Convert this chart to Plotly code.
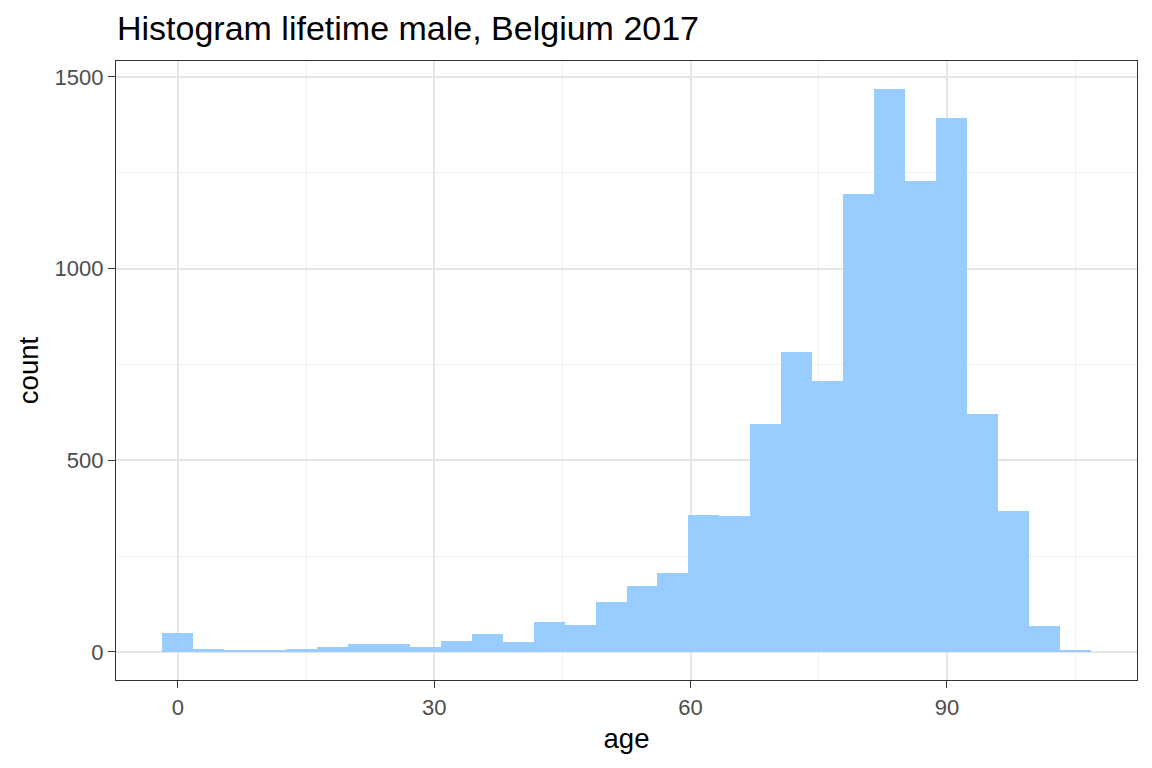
import plotly.graph_objects as go

# Histogram bins (bin centres, years) and counts
ages = [0, 3.62, 7.24, 10.86, 14.48, 18.10, 21.72, 25.34, 28.97, 32.59,
        36.21, 39.83, 43.45, 47.07, 50.69, 54.31, 57.93, 61.55, 65.17, 68.79,
        72.41, 76.03, 79.66, 83.28, 86.90, 90.52, 94.14, 97.76, 101.38, 105.00]
counts = [48, 7, 4, 4, 7, 12, 20, 20, 12, 28,
          46, 25, 77, 69, 129, 171, 205, 358, 354, 595,
          783, 706, 1194, 1468, 1229, 1392, 621, 368, 68, 5]
bin_width = 3.6207

x_ticks = [0, 30, 60, 90]
y_ticks = [0, 500, 1000, 1500]

font_family = "Liberation Sans, Arial, sans-serif"

# page body has an 8px margin, so the figure is a bit smaller than the window
W, H = 1144, 760

fig = go.Figure()
fig.add_trace(go.Bar(
    x=ages,
    y=counts,
    width=bin_width,
    marker=dict(color="#99CCFF", line=dict(width=0)),
    hoverinfo="x+y",
))

axis_style = dict(
    showline=True,
    mirror=True,
    linecolor="#333333",
    linewidth=1.3,
    showgrid=True,
    gridcolor="#E6E6E6",
    gridwidth=1.5,
    zeroline=False,
    ticks="outside",
    ticklen=7,
    tickwidth=1.3,
    tickcolor="#333333",
    tickfont=dict(size=22, color="#4D4D4D", family=font_family),
)

fig.update_layout(
    width=W,
    height=H,
    template="plotly_white",
    plot_bgcolor="white",
    paper_bgcolor="white",
    showlegend=False,
    bargap=0,
    margin=dict(l=108, r=15, t=53, b=88),
    title=dict(
        text="Histogram lifetime male, Belgium 2017",
        x=109 / W,
        xref="container",
        xanchor="left",
        y=1 - 20 / H,
        yref="container",
        yanchor="middle",
        font=dict(size=34, color="black", family=font_family),
    ),
    xaxis=dict(
        axis_style,
        range=[-7.24, 112.24],
        tickvals=x_ticks,
        minor=dict(tickvals=[15, 45, 75, 105], showgrid=True,
                   gridcolor="#EFEFEF", gridwidth=0.9, ticks=""),
        title=dict(text="age", standoff=10,
                   font=dict(size=27.5, color="black", family=font_family)),
    ),
    yaxis=dict(
        axis_style,
        range=[-73.4, 1541.4],
        tickvals=y_ticks,
        minor=dict(tickvals=[250, 750, 1250], showgrid=True,
                   gridcolor="#EFEFEF", gridwidth=0.9, ticks=""),
        title=dict(text="count", standoff=7,
                   font=dict(size=27.5, color="black", family=font_family)),
    ),
)

fig.write_html("out.html")
